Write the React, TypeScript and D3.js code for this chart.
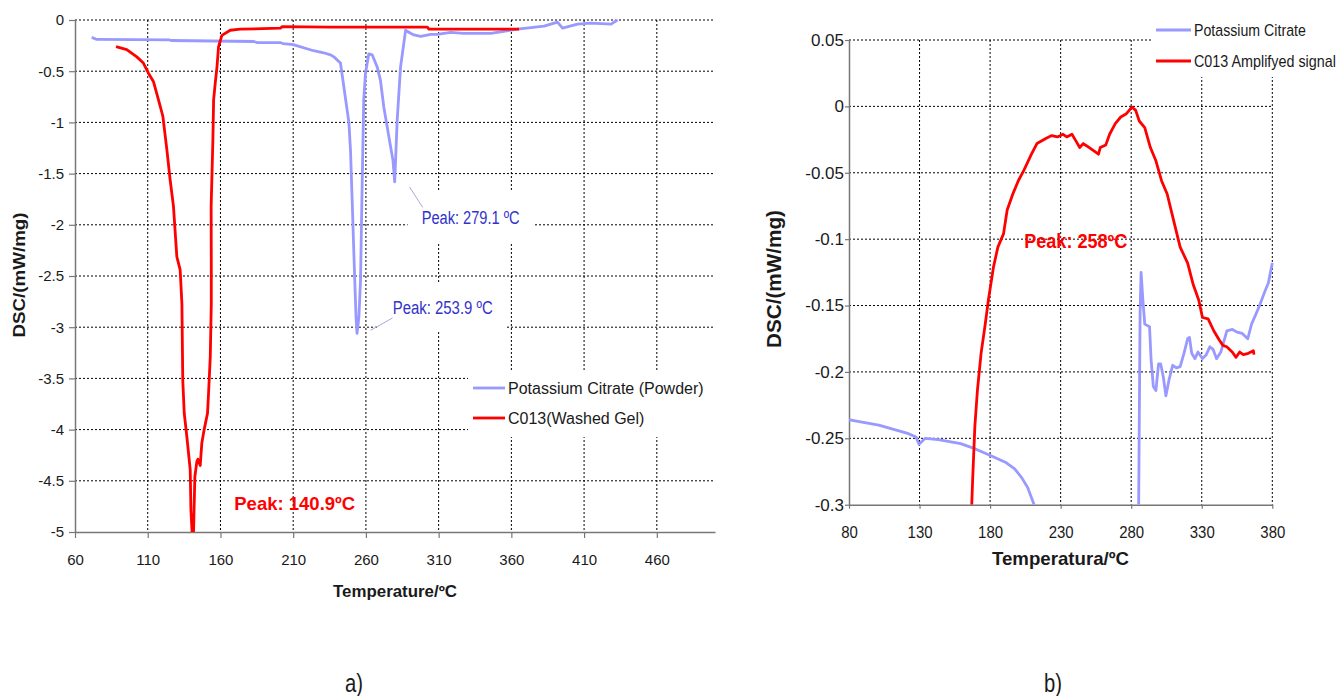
import React, { useEffect, useRef } from "react";
import * as d3 from "d3";

type Pt = [number, number];

// ---- a) full DSC scan: temperature (ºC), DSC (mW/mg)
const tempTicksA = [60, 110, 160, 210, 260, 310, 360, 410, 460];
const dscTicksA = [0, -0.5, -1, -1.5, -2, -2.5, -3, -3.5, -4, -4.5, -5];

const powderA: Pt[] = [
  [71.5, -0.17], [75, -0.19], [125, -0.195], [126, -0.2], [183, -0.21], [185, -0.22],
  [201, -0.22], [203, -0.23], [210, -0.24], [224, -0.3], [231, -0.32], [235.6, -0.34],
  [238, -0.36], [242.5, -0.42], [244.8, -0.65], [248.3, -1.0], [249.4, -1.27],
  [250.6, -1.78], [252, -2.4], [253.2, -2.9], [253.9, -3.06], [255.2, -2.9], [256.3, -2.54],
  [257.4, -1.63], [258.5, -0.78], [259.7, -0.52], [262, -0.33], [264.3, -0.34],
  [267.8, -0.46], [270, -0.59], [272.3, -0.85], [277, -1.24], [278.6, -1.37], [279.8, -1.58],
  [281.5, -0.98], [283.8, -0.46], [287.3, -0.1], [290.7, -0.13], [293, -0.146],
  [297.6, -0.16], [304.5, -0.14], [309, -0.14], [318.3, -0.12], [327, -0.13],
  [345.8, -0.13], [354.8, -0.11], [364.2, -0.09], [382.5, -0.06], [391.7, -0.02],
  [395.2, -0.08], [405.5, -0.04], [414.7, -0.03], [428.5, -0.04], [433, 0.0],
];

const gelA: Pt[] = [
  [88.2, -0.26], [95.6, -0.29], [102.5, -0.36], [107, -0.42], [110.5, -0.52], [113.9, -0.6],
  [117.4, -0.78], [120.4, -0.94], [123.2, -1.27], [125.4, -1.56], [127.7, -1.82],
  [130, -2.31], [132.3, -2.44], [133.5, -2.77], [134.1, -3.52], [135.1, -3.84],
  [136.9, -4.07], [139.2, -4.39], [139.7, -4.79], [140.5, -5.0], [141.5, -5.0],
  [142.4, -4.46], [143.8, -4.31], [144.5, -4.29], [146.1, -4.35], [147.2, -4.13],
  [148.8, -4.0], [151.1, -3.84], [151.8, -3.65], [153, -3.29], [153.7, -2.77],
  [153.7, -2.44], [153.6, -1.82], [154.8, -1.17], [155.3, -0.78], [156.4, -0.62],
  [157.6, -0.46], [158.7, -0.26], [161, -0.15], [166.7, -0.1], [173.6, -0.09],
  [201.2, -0.08], [202.3, -0.065], [235.6, -0.07], [302.2, -0.07], [303.3, -0.09],
  [365.3, -0.09],
];

// ---- b) zoom on the gel signal
const tempTicksB = [80, 130, 180, 230, 280, 330, 380];
const dscTicksB = [0.05, 0, -0.05, -0.1, -0.15, -0.2, -0.25, -0.3];

// powder trace leaves the window between ~211 and ~285 ºC
const powderBLow: Pt[] = [
  [80, -0.236], [85.3, -0.237], [101.1, -0.24], [122.2, -0.2465], [127.5, -0.249],
  [129.6, -0.2545], [134.1, -0.25], [143.3, -0.251], [159.1, -0.254], [169.6, -0.258],
  [180.2, -0.263], [190.8, -0.268], [197.4, -0.273], [202.6, -0.28], [206.6, -0.287],
  [211.2, -0.3],
];
const powderBHigh: Pt[] = [
  [285.3, -0.3], [286.3, -0.156], [287, -0.125], [288.3, -0.146], [289.6, -0.164],
  [293, -0.166], [294.1, -0.191], [295.7, -0.211], [297.5, -0.214], [299.4, -0.194],
  [300.9, -0.194], [302.8, -0.204], [304.6, -0.218], [306.8, -0.206], [309.4, -0.195],
  [312, -0.197], [314.7, -0.196], [317.4, -0.186], [320, -0.175], [321.3, -0.174],
  [322.9, -0.186], [325.2, -0.19], [327.3, -0.185], [330.5, -0.19], [333.2, -0.187],
  [335.8, -0.181], [338, -0.183], [340.5, -0.19], [343.5, -0.185], [347.8, -0.169],
  [351.7, -0.168], [355, -0.17], [358.7, -0.171], [362.6, -0.175], [365.3, -0.164],
  [370.6, -0.151], [374.5, -0.14], [377.2, -0.133], [380, -0.118],
];

const gelB: Pt[] = [
  [167, -0.3], [167.6, -0.282], [169.2, -0.241], [171, -0.214], [173.6, -0.186],
  [176.3, -0.166], [178.9, -0.145], [182.4, -0.121], [185.5, -0.106], [189.5, -0.096],
  [192.1, -0.078], [196.1, -0.066], [200, -0.056], [204, -0.048], [209.3, -0.036],
  [213.2, -0.028], [219.8, -0.024], [223.7, -0.022], [227.7, -0.023], [231.7, -0.021],
  [234.3, -0.023], [238, -0.021], [240.8, -0.026], [243.5, -0.031], [246, -0.028],
  [248.8, -0.03], [252.8, -0.033], [256.8, -0.036], [258.1, -0.031], [262, -0.029],
  [264.7, -0.021], [268.7, -0.013], [272.6, -0.008], [276.6, -0.0055], [280.5, -0.0005],
  [283.2, -0.003], [285.7, -0.011], [289.6, -0.016], [293.6, -0.031], [297.5, -0.041],
  [301.5, -0.056], [305.5, -0.066], [309.4, -0.083], [314.7, -0.106], [320, -0.118],
  [323.9, -0.134], [327.9, -0.146], [330.5, -0.159], [334.5, -0.16], [338.5, -0.169],
  [342.4, -0.176], [345, -0.18], [347.7, -0.181], [351.6, -0.185], [354.3, -0.189],
  [356.9, -0.185], [359.5, -0.187], [363, -0.186], [366.6, -0.184], [367, -0.187],
];

const BLUE = "#9999ff";
const RED = "#ff0000";
const ANNOT = "#3333cc";
const INK = "#1a1a1a";
const FONT = "Arial, 'Liberation Sans', sans-serif";

// the source figure is slightly squashed sideways, so text is fitted to a width
function fit(sel: any, width: number) {
  return sel.attr("textLength", width).attr("lengthAdjust", "spacingAndGlyphs");
}
// same idea, but by scaling the glyphs horizontally around the anchor x
function narrow(sel: any, width: number) {
  const k = width / sel.node().getComputedTextLength();
  const x = +sel.attr("x");
  return sel.attr("transform", `translate(${x * (1 - k)},0) scale(${k},1)`);
}
function squeeze(sel: any, k: number) {
  sel.each(function (this: any) {
    const w = this.getComputedTextLength();
    d3.select(this).attr("textLength", w * k).attr("lengthAdjust", "spacingAndGlyphs");
  });
}

function drawPanel(svg: any, o: any) {
  const x = d3.scaleLinear().domain(o.xDomain).range(o.xRange);
  const y = d3.scaleLinear().domain(o.yDomain).range(o.yRange);
  const [x0, x1] = o.xRange;
  const [yb, yt] = o.yRange;

  const gGrid = svg.append("g");
  const gBox = svg.append("g");
  const gAxis = svg.append("g");
  const gData = svg.append("g");
  const gText = svg.append("g");

  // dotted grid
  o.yTicks.filter((d: number) => d !== o.yDomain[0]).forEach((d: number) => {
    gGrid.append("line").attr("x1", x0).attr("x2", x1).attr("y1", y(d)).attr("y2", y(d))
      .attr("stroke", "#000").attr("stroke-width", 1).attr("stroke-dasharray", "2,2");
  });
  o.xTicks.slice(1).forEach((d: number) => {
    gGrid.append("line").attr("x1", x(d)).attr("x2", x(d)).attr("y1", yt).attr("y2", yb)
      .attr("stroke", "#000").attr("stroke-width", 1).attr("stroke-dasharray", "2,2");
  });

  // axes
  const ax = gAxis.append("g").attr("transform", `translate(0,${yb})`)
    .call(d3.axisBottom(x).tickValues(o.xTicks).tickSize(o.tick).tickSizeOuter(0)
      .tickPadding(o.xPad).tickFormat((d: any) => String(d)));
  const ay = gAxis.append("g").attr("transform", `translate(${x0},0)`)
    .call(d3.axisLeft(y).tickValues(o.yTicks).tickSize(o.tick).tickSizeOuter(0)
      .tickPadding(o.yPad).tickFormat((d: any) => String(d)));
  [ax, ay].forEach((a) => {
    a.select(".domain").attr("stroke", "#777").attr("stroke-width", 1.5);
    a.selectAll(".tick line").attr("stroke", "#777").attr("stroke-width", 1.2);
    a.selectAll("text").attr("fill", INK).style("font-family", FONT).style("font-size", o.tickFont + "px");
  });
  if (o.xSqueeze) squeeze(ax.selectAll("text"), o.xSqueeze);

  // clip area for data
  svg.append("clipPath").attr("id", o.id).append("rect")
    .attr("x", x0).attr("y", yt - 2).attr("width", x1 - x0 + 2).attr("height", yb - yt + 2);
  const series = gData.append("g").attr("clip-path", `url(#${o.id})`);
  const line = d3.line<Pt>().x((d) => x(d[0])).y((d) => y(d[1]));
  o.series.forEach((s: any) => {
    series.append("path").datum(s.data).attr("d", line).attr("fill", "none")
      .attr("stroke", s.color).attr("stroke-width", 2.8).attr("stroke-linejoin", "round");
  });

  return { x, y, gBox, gText };
}

function legend(p: any, box: number[], items: any[], size: number, lineLen: number) {
  p.gBox.append("rect").attr("x", box[0]).attr("y", box[1]).attr("width", box[2]).attr("height", box[3]).attr("fill", "#fff");
  items.forEach((it) => {
    p.gText.append("line").attr("x1", it.x).attr("x2", it.x + lineLen).attr("y1", it.y).attr("y2", it.y)
      .attr("stroke", it.color).attr("stroke-width", 2.8);
    const t = p.gText.append("text").attr("x", it.x + lineLen + 3).attr("y", it.y).attr("dy", "0.35em")
      .style("font-family", FONT).style("font-size", size + "px").attr("fill", INK).text(it.label);
    if (it.w) narrow(t, it.w);
  });
}

function callout(p: any, label: string, w: number, at: Pt, from: Pt, to: Pt) {
  const t = p.gText.append("text").attr("x", p.x(at[0])).attr("y", p.y(at[1])).attr("dy", "0.35em")
    .attr("text-anchor", "middle").style("font-family", FONT).style("font-size", "18px")
    .attr("fill", ANNOT).text(label);
  fit(t, w);
  const bb = t.node().getBBox();
  p.gBox.append("rect").attr("x", bb.x - 14).attr("y", bb.y - 16).attr("width", bb.width + 28)
    .attr("height", bb.height + 30).attr("fill", "#fff");
  p.gText.append("line").attr("x1", p.x(from[0])).attr("y1", p.y(from[1]))
    .attr("x2", p.x(to[0])).attr("y2", p.y(to[1])).attr("stroke", "#a8a8d8").attr("stroke-width", 1);
}

export default function App() {
  const ref = useRef<SVGSVGElement>(null);

  useEffect(() => {
    const svg = d3.select(ref.current);
    svg.selectAll("*").remove();

    // ----- panel a
    const a = drawPanel(svg, {
      id: "clipA", xDomain: [60, 500], xRange: [75, 715], yDomain: [-5, 0], yRange: [532, 20],
      xTicks: tempTicksA, yTicks: dscTicksA, tickFont: 15, tick: 6, xPad: 16, yPad: 5,
      series: [{ data: powderA, color: BLUE }, { data: gelA, color: RED }],
    });
    legend(a, [468, 370, 247, 67], [
      { x: 473, y: 388, color: BLUE, label: "Potassium Citrate (Powder)" },
      { x: 473, y: 418, color: RED, label: "C013(Washed Gel)" },
    ], 16, 32);
    callout(a, "Peak: 279.1 ºC", 98, [332, -1.93], [290, -1.63], [299, -1.83]);
    callout(a, "Peak: 253.9 ºC", 100, [312.8, -2.81], [263.2, -3.03], [278.3, -2.91]);
    a.gText.append("text").attr("x", a.x(169.5)).attr("y", a.y(-4.785))
      .style("font-family", FONT).style("font-size", "18.5px").style("font-weight", "bold")
      .attr("fill", RED).text("Peak: 140.9ºC");
    fit(a.gText.append("text").attr("transform", "translate(19,275) rotate(-90)").attr("text-anchor", "middle")
      .attr("dy", "0.35em").style("font-family", FONT).style("font-size", "17px").style("font-weight", "bold")
      .attr("fill", INK).text("DSC/(mW/mg)"), 125);
    fit(a.gText.append("text").attr("x", 395).attr("y", 597).attr("text-anchor", "middle")
      .style("font-family", FONT).style("font-size", "16.5px").style("font-weight", "bold")
      .attr("fill", INK).text("Temperature/ºC"), 124);

    // ----- panel b
    const b = drawPanel(svg, {
      id: "clipB", xDomain: [80, 380], xRange: [849, 1272.3], yDomain: [-0.3, 0.05], yRange: [504.7, 40],
      xTicks: tempTicksB, yTicks: dscTicksB, tickFont: 17, tick: 4, xPad: 17, yPad: 1, xSqueeze: 0.88,
      series: [{ data: powderBLow, color: BLUE }, { data: powderBHigh, color: BLUE }, { data: gelB, color: RED }],
    });
    legend(b, [1151, 0, 200, 77], [
      { x: 1156, y: 30, color: BLUE, label: "Potassium Citrate", w: 112 },
      { x: 1156, y: 61, color: RED, label: "C013 Amplifyed signal", w: 142 },
    ], 17, 35);
    fit(b.gText.append("text").attr("x", b.x(204.2)).attr("y", b.y(-0.1065))
      .style("font-family", FONT).style("font-size", "19.5px").style("font-weight", "bold")
      .attr("fill", RED).text("Peak: 258ºC"), 103);
    fit(b.gText.append("text").attr("transform", "translate(774,279) rotate(-90)").attr("text-anchor", "middle")
      .attr("dy", "0.35em").style("font-family", FONT).style("font-size", "20px").style("font-weight", "bold")
      .attr("fill", INK).text("DSC/(mW/mg)"), 138);
    fit(b.gText.append("text").attr("x", 1060.5).attr("y", 565).attr("text-anchor", "middle")
      .style("font-family", FONT).style("font-size", "19px").style("font-weight", "bold")
      .attr("fill", INK).text("Temperatura/ºC"), 137);

    // captions
    [["a)", 354], ["b)", 1053]].forEach(([t, cx]) => {
      fit(svg.append("text").attr("x", cx).attr("y", 692).attr("text-anchor", "middle")
        .style("font-family", FONT).style("font-size", "25px").attr("fill", INK).text(t as string), 18);
    });
  }, []);

  return (
    <svg ref={ref} width={1343} height={696}
      style={{ position: "absolute", left: 0, top: 0, background: "#fff" }} />
  );
}
